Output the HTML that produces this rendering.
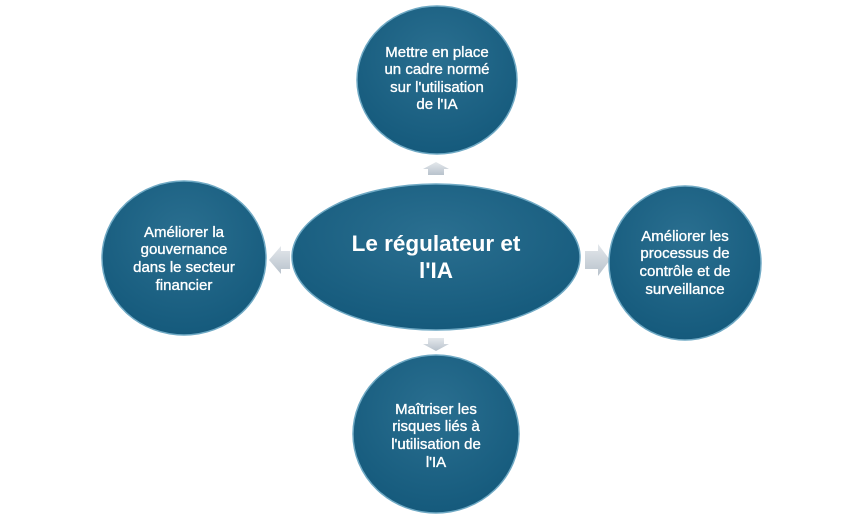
<!DOCTYPE html>
<html><head><meta charset="utf-8"><style>
html,body{margin:0;padding:0;background:#fff;}
svg{display:block;}
text{font-family:"Liberation Sans",sans-serif;fill:#fff;text-anchor:middle;}
.s{font-size:15px;stroke:#fff;stroke-width:0.35;}
.c{font-size:22.5px;font-weight:bold;}
</style></head><body>
<svg width="864" height="518" viewBox="0 0 864 518" xmlns="http://www.w3.org/2000/svg">
<defs>
<radialGradient id="g" cx="50%" cy="35%" r="65%">
<stop offset="0" stop-color="#2a6f90"/>
<stop offset="1" stop-color="#155a7c"/>
</radialGradient>
<linearGradient id="a" x1="0" y1="0" x2="0" y2="1">
<stop offset="0" stop-color="#e4e8ec"/>
<stop offset="1" stop-color="#b8c2cc"/>
</linearGradient>
</defs>
<polygon points="428,175 444,175 444,169 449,169 436,162 423,169 428,169" fill="url(#a)"/>
<polygon points="428,338 444,338 444,344 449,344 436,351 423,344 428,344" fill="url(#a)"/>
<polygon points="290,251 290,269 281,269 281,274 269,260 281,246 281,251" fill="url(#a)"/>
<polygon points="585,251 585,269 598,269 598,276 610,260 598,244 598,251" fill="url(#a)"/>
<g stroke="#6fa9c4" stroke-width="1.5">
<ellipse cx="437" cy="80" rx="80" ry="74" fill="url(#g)"/>
<ellipse cx="184" cy="258" rx="82" ry="77" fill="url(#g)"/>
<ellipse cx="685" cy="263" rx="76" ry="77" fill="url(#g)"/>
<ellipse cx="436" cy="434" rx="83" ry="79" fill="url(#g)"/>
<ellipse cx="436" cy="257" rx="144" ry="73" fill="url(#g)"/>
</g>
<text class="s" x="437" y="57">Mettre en place</text>
<text class="s" x="437" y="74">un cadre normé</text>
<text class="s" x="437" y="92">sur l'utilisation</text>
<text class="s" x="437" y="109">de l'IA</text>
<text class="s" x="184" y="237">Améliorer la</text>
<text class="s" x="184" y="254">gouvernance</text>
<text class="s" x="184" y="272">dans le secteur</text>
<text class="s" x="184" y="290">financier</text>
<text class="s" x="685" y="241">Améliorer les</text>
<text class="s" x="685" y="258">processus de</text>
<text class="s" x="685" y="276">contrôle et de</text>
<text class="s" x="685" y="294">surveillance</text>
<text class="s" x="436" y="414">Maîtriser les</text>
<text class="s" x="436" y="431">risques liés à</text>
<text class="s" x="436" y="449">l'utilisation de</text>
<text class="s" x="436" y="467">l'IA</text>
<text class="c" x="436" y="251">Le régulateur et</text>
<text class="c" x="436" y="278">l'IA</text>
</svg>
</body></html>
